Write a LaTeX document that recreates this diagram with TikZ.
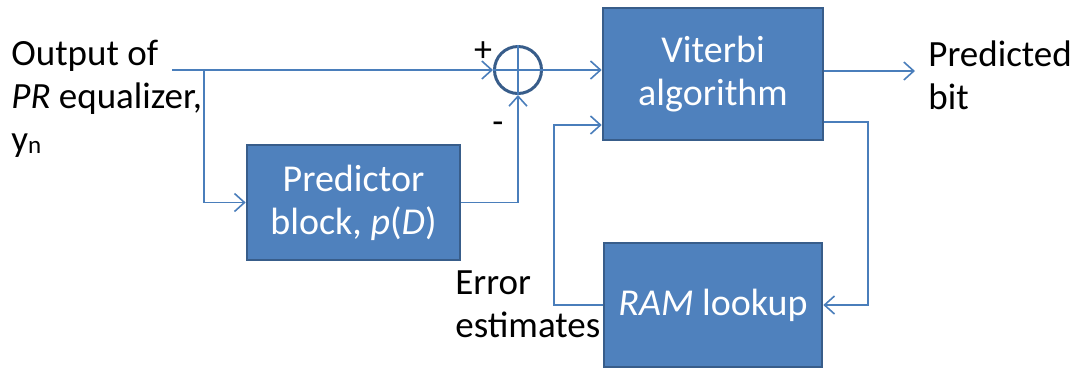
\documentclass[tikz,border=0pt]{standalone}
\usepackage{fontspec}
\setmainfont{Carlito}
\usetikzlibrary{arrows.meta}
\definecolor{boxfill}{HTML}{4F81BD}
\definecolor{boxedge}{HTML}{385D8A}
\definecolor{wirecol}{HTML}{4A7EBB}

\begin{document}
\begin{tikzpicture}[x=0.5pt, y=-0.5pt,
  blk/.style={draw=boxedge, line width=1.3pt, fill=boxfill, text=white, align=center, font=\fontsize{19}{21.5}\selectfont, inner sep=0pt},
  wire/.style={draw=wirecol, line width=0.8pt},
  tip/.style={-{Straight Barb[length=5pt,width=9pt]}},
  lbl/.style={align=left, font=\fontsize{18.5}{21.5}\selectfont, inner sep=0pt}]
\useasboundingbox (0,0) rectangle (1083,371);

\node[blk, minimum width=110pt, minimum height=66pt] (vit) at (713,74) {Viterbi\\algorithm};
\node[blk, minimum width=109pt, minimum height=62pt] (ram) at (713,305) {\textit{RAM} lookup};
\node[blk, minimum width=106.5pt, minimum height=57.5pt] (pred) at (353.5,202.5) {Predictor\\block, \textit{p}(\textit{D})};
\node[circle, draw=boxedge, line width=1.5pt, minimum size=23.5pt, inner sep=0pt] (sum) at (518,70) {};

\node[lbl, anchor=north west] (inp) at (11,40) {Output of\\\textit{PR} equalizer,\\y\raisebox{-1pt}{\fontsize{12.5}{12}\selectfont n}};
\node[lbl, anchor=north west] (bit) at (928,40) {Predicted\\bit};
\node[lbl, anchor=north west] (err) at (455,270) {Error\\estimates};
\node[font=\fontsize{18}{18}\selectfont] (plus) at (483,52) {+};
\node[font=\fontsize{18}{18}\selectfont] (minus) at (498,128) {-};

\coordinate (src) at (172,70);
\coordinate (split) at (204,70);
\coordinate (outp) at (915,71);
\coordinate (fbr) at (868,122);
\coordinate (fbl) at (554,125);

\draw[wire, tip] (src) -- (sum.west);
\draw[wire, tip] (split) |- (pred.west);
\draw[wire, tip] (pred.east) -| (sum.south);
\draw[wire] (sum.north) -- (sum.south) (sum.west) -- (sum.east);
\draw[wire, tip] (sum.east) -- (sum.east -| vit.west);
\draw[wire, tip] (vit.east |- outp) -- (outp);
\draw[wire, tip] (vit.east |- fbr) -- (fbr) |- (ram.east);
\draw[wire, tip] (ram.west) -| (fbl) -- (fbl -| vit.west);
\end{tikzpicture}
\end{document}
